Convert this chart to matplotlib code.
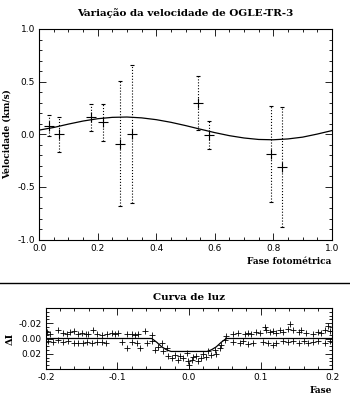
import matplotlib
matplotlib.use("Agg")
import matplotlib.pyplot as plt
from matplotlib.ticker import MultipleLocator, FormatStrFormatter
from matplotlib.lines import Line2D

plt.rcParams["axes.unicode_minus"] = False

# ---------------- Radial velocity data ----------------
rv_phase = [0.034, 0.068, 0.177, 0.217, 0.276, 0.316, 0.542, 0.581, 0.791, 0.829]
rv_vel = [0.08, 0.00, 0.16, 0.115, -0.09, 0.00, 0.295, -0.005, -0.185, -0.31]
rv_err = [0.10, 0.165, 0.125, 0.175, 0.595, 0.655, 0.255, 0.135, 0.455, 0.57]

# Model curve
model_phase = [0.00, 0.05, 0.10, 0.15, 0.20, 0.25, 0.30, 0.35, 0.40, 0.45, 0.50,
               0.55, 0.60, 0.65, 0.70, 0.75, 0.80, 0.85, 0.90, 0.95, 1.00]
model_vel = [0.040, 0.065, 0.097, 0.126, 0.148, 0.161, 0.164, 0.156, 0.139, 0.114,
             0.083, 0.049, 0.016, -0.013, -0.035, -0.049, -0.052, -0.044, -0.027,
             0.002, 0.035]

# ---------------- Light curve data ----------------
lc_phase = [
    -0.198, -0.194, -0.183, -0.176, -0.171, -0.166, -0.161, -0.155, -0.150, -0.144,
    -0.141, -0.134, -0.128, -0.122, -0.115, -0.108, -0.104, -0.099, -0.087, -0.080,
    -0.076, -0.071, -0.061, -0.052,
    -0.197, -0.190, -0.183, -0.176, -0.169, -0.161, -0.155, -0.148, -0.142, -0.136,
    -0.129, -0.122, -0.116, -0.094, -0.087, -0.080, -0.073, -0.068, -0.059, -0.052,
    -0.048, -0.043, -0.038, -0.036, -0.031, -0.029, -0.024, -0.020, -0.015, -0.013,
    -0.008, -0.003, -0.001, 0.000, 0.004, 0.006, 0.010, 0.013, 0.017, 0.020,
    0.024, 0.027, 0.031, 0.036, 0.038, 0.043, 0.045, 0.050, 0.052,
    0.062, 0.069, 0.078, 0.083, 0.087, 0.094, 0.099, 0.106, 0.108, 0.113,
    0.118, 0.122, 0.127, 0.132, 0.139, 0.141, 0.146, 0.153, 0.157, 0.164,
    0.173, 0.180, 0.185, 0.190, 0.194, 0.197,
    0.062, 0.071, 0.076, 0.083, 0.090, 0.104, 0.111, 0.118, 0.122, 0.132,
    0.139, 0.146, 0.153, 0.160, 0.166, 0.173, 0.180, 0.190, 0.197,
]
lc_dI = [
    -0.0085, -0.0064, -0.0106, -0.0072, -0.0064, -0.0085, -0.0098, -0.0064, -0.0077, -0.0064,
    -0.0055, -0.0106, -0.0064, -0.0043, -0.0055, -0.0072, -0.0064, -0.0072, -0.0055, -0.0064,
    -0.0051, -0.0064, -0.0098, -0.0043,
    0.0030, 0.0043, 0.0021, 0.0047, 0.0034, 0.0055, 0.0064, 0.0055, 0.0047, 0.0060,
    0.0043, 0.0051, 0.0064, 0.0047, 0.0128, 0.0043, 0.0064, 0.0128, 0.0055, 0.0034,
    0.0149, 0.0107, 0.0064, 0.0170, 0.0128, 0.0234, 0.0256, 0.0213, 0.0277, 0.0226,
    0.0256, 0.0192, 0.0298, 0.0341, 0.0277, 0.0243, 0.0226, 0.0298, 0.0256, 0.0200,
    0.0243, 0.0170, 0.0213, 0.0149, 0.0200, 0.0128, 0.0085, 0.0021, -0.0030,
    -0.0064, -0.0072, -0.0055, -0.0072, -0.0064, -0.0085, -0.0072, -0.0149, -0.0115, -0.0085,
    -0.0098, -0.0077, -0.0106, -0.0085, -0.0128, -0.0192, -0.0106, -0.0085, -0.0106, -0.0072,
    -0.0064, -0.0085, -0.0072, -0.0115, -0.0162, -0.0098,
    0.0043, 0.0055, 0.0030, 0.0072, 0.0064, 0.0043, 0.0055, 0.0085, 0.0064, 0.0030,
    0.0051, 0.0034, 0.0055, 0.0030, 0.0064, 0.0043, 0.0034, 0.0055, 0.0030,
]

lc_model_phase = [-0.20, -0.052, -0.045, -0.038, -0.031, -0.025, 0.025, 0.031, 0.038, 0.045, 0.052, 0.20]
lc_model_dI = [0.0, 0.0, 0.005, 0.011, 0.015, 0.017, 0.017, 0.015, 0.011, 0.005, 0.0, 0.0]

serif = ["DejaVu Serif"]
tick_font = 6.5

fig = plt.figure(figsize=(3.5, 4.0), dpi=100)

def style_axes(ax):
    ax.tick_params(which="both", direction="in", top=True, right=True,
                   labelsize=tick_font, width=0.6, pad=3)
    ax.tick_params(which="major", length=5)
    ax.tick_params(which="minor", length=2.5)
    for s in ax.spines.values():
        s.set_linewidth(0.8)

# ---------------- Upper panel ----------------
ax1 = fig.add_axes([0.112, 0.401, 0.836, 0.5265])
ax1.plot(model_phase, model_vel, color="black", lw=0.9)
ax1.errorbar(rv_phase, rv_vel, yerr=rv_err, fmt="none", ecolor="black",
             elinewidth=0.8, linestyle=":", capsize=1.6, capthick=0.8)
for c in ax1.collections:
    c.set_linestyle(":")
ax1.plot(rv_phase, rv_vel, "+", color="black", ms=7, mew=0.8)
ax1.set_xlim(0, 1.0)
ax1.set_ylim(-1.0, 1.0)
ax1.xaxis.set_major_locator(MultipleLocator(0.2))
ax1.xaxis.set_minor_locator(MultipleLocator(0.05))
ax1.yaxis.set_major_locator(MultipleLocator(0.5))
ax1.yaxis.set_minor_locator(MultipleLocator(0.1))
ax1.xaxis.set_major_formatter(FormatStrFormatter("%.1f"))
ax1.yaxis.set_major_formatter(FormatStrFormatter("%.1f"))
style_axes(ax1)
ax1.set_title("Variação da velocidade de OGLE-TR-3", family=serif,
              fontsize=7.5, fontweight="bold", pad=9)
ax1.set_ylabel("Velocidade (km/s)", family=serif, fontsize=6.5, fontweight="bold", labelpad=4)
ax1.set_xlabel("Fase fotométrica", family=serif, fontsize=6.5, fontweight="bold",
               loc="right", labelpad=3)

# separator line
fig.add_artist(Line2D([0.0, 1.0], [0.2925, 0.2925], transform=fig.transFigure,
                      color="black", lw=1.0))

# ---------------- Lower panel ----------------
ax2 = fig.add_axes([0.131, 0.0775, 0.818, 0.1525])
ax2.plot(lc_model_phase, lc_model_dI, color="black", lw=0.9)
ax2.plot(lc_phase, lc_dI, "+", color="black", ms=4.5, mew=0.6)
ax2.set_xlim(-0.2, 0.2)
ax2.set_ylim(0.04, -0.04)
ax2.xaxis.set_major_locator(MultipleLocator(0.1))
ax2.xaxis.set_minor_locator(MultipleLocator(0.02))
ax2.yaxis.set_major_locator(MultipleLocator(0.02))
ax2.yaxis.set_minor_locator(MultipleLocator(0.005))
ax2.xaxis.set_major_formatter(FormatStrFormatter("%.1f"))
ax2.yaxis.set_major_formatter(FormatStrFormatter("%.2f"))
style_axes(ax2)
ax2.set_yticks([-0.02, 0.0, 0.02])
ax2.set_title("Curva de luz", family=serif, fontsize=7.5, fontweight="bold", pad=6)
ax2.set_ylabel("ΔI", family=serif, fontsize=7, fontweight="bold", labelpad=3)
ax2.set_xlabel("Fase", family=serif, fontsize=6.5, fontweight="bold", loc="right", labelpad=3)

fig.savefig("out.png", dpi=100)
